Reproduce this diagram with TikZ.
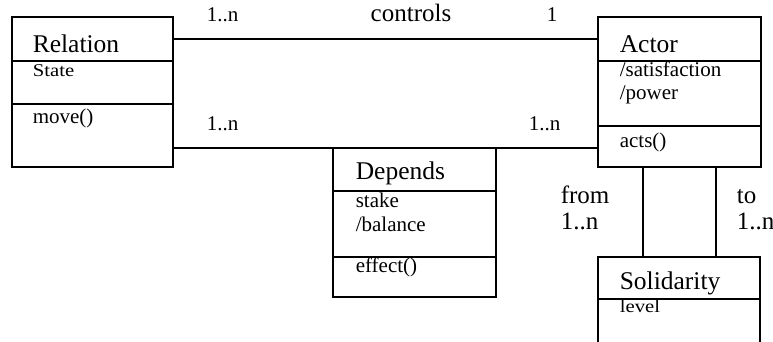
\documentclass[tikz,border=0pt]{standalone}
\usepackage{fontspec}
\setmainfont{Liberation Serif}
\begin{document}
\begin{tikzpicture}[x=1pt,y=-1pt,line width=1.6pt,
  cls/.style={draw,rectangle,anchor=north west,inner sep=0pt,outer sep=0pt},
  ttl/.style={anchor=base west,inner sep=0pt,font=\fontsize{25.5}{28}\selectfont},
  attr/.style={anchor=base west,inner sep=0pt,font=\fontsize{21}{24}\selectfont},
  mult/.style={anchor=base west,inner sep=0pt,font=\fontsize{21}{24}\selectfont},
  role/.style={anchor=base west,inner sep=0pt,font=\fontsize{25}{28}\selectfont}]
\useasboundingbox (0,0) rectangle (773,342);
\clip (0,0) rectangle (773,342);

% classes
\node[cls,minimum width=161pt,minimum height=150pt] (rel) at (12,17) {};
\node[cls,minimum width=163pt,minimum height=150pt] (act) at (598,17) {};
\node[cls,minimum width=163pt,minimum height=149pt] (dep) at (333,148) {};
\node[cls,minimum width=162pt,minimum height=130pt] (sol) at (598,257) {};

% compartments
\draw ([yshift=-44pt]rel.north west) -- ([yshift=-44pt]rel.north east);
\draw ([yshift=-87pt]rel.north west) -- ([yshift=-87pt]rel.north east);
\draw ([yshift=-44pt]act.north west) -- ([yshift=-44pt]act.north east);
\draw ([yshift=-109pt]act.north west) -- ([yshift=-109pt]act.north east);
\draw ([yshift=-43pt]dep.north west) -- ([yshift=-43pt]dep.north east);
\draw ([yshift=-109pt]dep.north west) -- ([yshift=-109pt]dep.north east);
\draw ([yshift=-42pt]sol.north west) -- ([yshift=-42pt]sol.north east);

% class texts
\node[ttl] (relT) at ([xshift=20pt,yshift=-36pt]rel.north west) {Relation};
\node[attr] (relA) at ([xshift=20pt,yshift=-60pt]rel.north west) {\scalebox{1.15}[1]{\fontsize{18}{20}\selectfont State}};
\node[attr] (relM) at ([xshift=20pt,yshift=-107pt]rel.north west) {move()};

\node[ttl] (actT) at ([xshift=21pt,yshift=-36pt]act.north west) {Actor};
\node[attr] (actA) at ([xshift=21pt,yshift=-60pt]act.north west) {/satisfaction};
\node[attr] (actB) at ([xshift=21pt,yshift=-83pt]act.north west) {/power};
\node[attr] (actM) at ([xshift=21pt,yshift=-130pt]act.north west) {acts()};

\node[ttl] (depT) at ([xshift=22pt,yshift=-31pt]dep.north west) {Depends};
\node[attr] (depA) at ([xshift=22pt,yshift=-59pt]dep.north west) {stake};
\node[attr] (depB) at ([xshift=22pt,yshift=-83pt]dep.north west) {/balance};
\node[attr] (depM) at ([xshift=22pt,yshift=-124pt]dep.north west) {effect()};

\node[ttl] (solT) at ([xshift=21pt,yshift=-32pt]sol.north west) {Solidarity};
\node[attr] (solA) at ([xshift=21pt,yshift=-55pt]sol.north west) {\scalebox{1.15}[1]{\fontsize{18}{20}\selectfont level}};

% connectors
\draw ([yshift=-22pt]rel.north east) -- ([yshift=-22pt]act.north west);
\draw (rel.east |- dep.north) -- (act.west |- dep.north);
\draw ([xshift=45pt]act.south west) -- ([xshift=45pt]sol.north west);
\draw ([xshift=118pt]act.south west) -- ([xshift=118pt]sol.north west);

% connector labels
\node[mult] (m1) at (206,22) {1..n};
\node[role,anchor=base] (ctl) at (411,22) {controls};
\node[mult] (m2) at (546,22) {1};
\node[mult] (m3) at (206,130) {1..n};
\node[mult] (m4) at (528,130) {1..n};
\node[role] (from) at (560,203) {from};
\node[role] (m5) at (560,229) {1..n};
\node[role] (to) at (736,203) {to};
\node[role] (m6) at (736,229) {1..n};
\end{tikzpicture}
\end{document}
